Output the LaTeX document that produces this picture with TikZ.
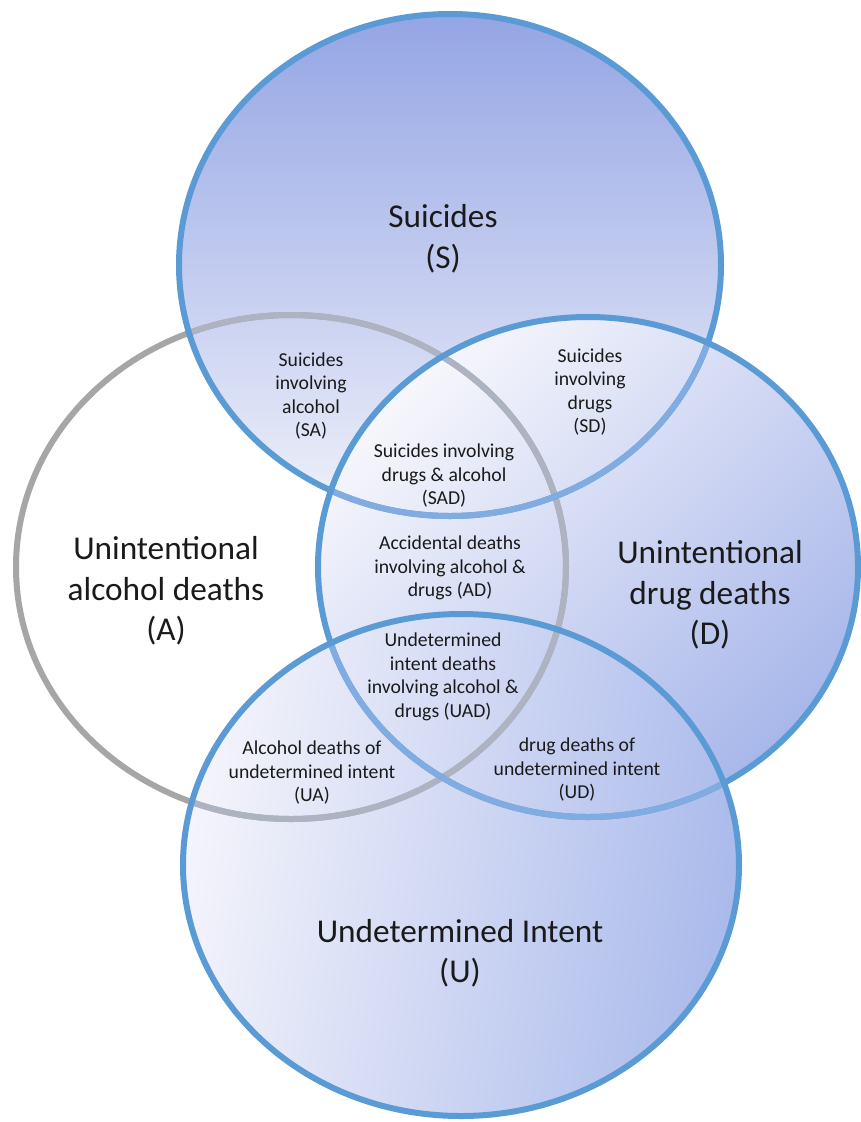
\documentclass[tikz,border=0pt]{standalone}
\usepackage{fontspec}
\setmainfont{Carlito}

% ring colours
\definecolor{ringblue}{HTML}{5B9BD5}
\definecolor{ringblueveil}{HTML}{80ACE1}
\definecolor{ringgray}{HTML}{A6A6A6}
\definecolor{ringgrayveil}{HTML}{AEB3C1}
\definecolor{labelink}{HTML}{1A1A1A}
% fill gradients
\definecolor{sTop}{HTML}{94A5E4}
\definecolor{sMid}{HTML}{D0D7F3}
\definecolor{sBot}{HTML}{EFF1FA}
\definecolor{dLight}{HTML}{F7F7FC}
\definecolor{dDark}{HTML}{A8B7EA}
\definecolor{uLight}{HTML}{F4F4FB}
\definecolor{uDark}{HTML}{AABAEB}

% the four sets
\newcommand\ringS{(450,265) ellipse [x radius=271, y radius=251]}
\newcommand\ringA{(291,567) ellipse [x radius=275, y radius=252]}
\newcommand\ringD{(588,567) ellipse [x radius=270, y radius=250]}
\newcommand\ringU{(461,865) ellipse [x radius=278, y radius=251]}

\begin{document}
\begin{tikzpicture}[x=1pt,y=-1pt,
  rim/.style={line width=6pt},
  biglabel/.style={align=center, inner sep=0pt, text=labelink,
    font=\fontsize{33.3}{40.5}\selectfont},
  smalllabel/.style={align=center, inner sep=0pt, text=labelink,
    font=\fontsize{19.7}{23.5}\selectfont}]

\fill[white] (0,0) rectangle (861,1122);
\useasboundingbox (0,0) rectangle (861,1122);

% fills, back to front
\shade[top color=sTop, middle color=sMid, bottom color=sBot] \ringS;
\shade[top color=dLight, bottom color=dDark, shading angle=45] \ringD;
\shade[top color=uLight, bottom color=uDark, shading angle=80] \ringU;

% alcohol ring, veiled where later sets lie over it
\draw[rim, ringgray] \ringA;
\begin{scope}\clip \ringS; \draw[rim, ringgrayveil] \ringA; \end{scope}
\begin{scope}\clip \ringD; \draw[rim, ringgrayveil] \ringA; \end{scope}
\begin{scope}\clip \ringU; \draw[rim, ringgrayveil] \ringA; \end{scope}

% suicides ring
\draw[rim, ringblue] \ringS;
\begin{scope}\clip \ringD; \draw[rim, ringblueveil] \ringS; \end{scope}

% drug ring
\draw[rim, ringblue] \ringD;
\begin{scope}\clip \ringU; \draw[rim, ringblueveil] \ringD; \end{scope}

% undetermined ring, on top
\draw[rim, ringblue] \ringU;

% set labels
\node[biglabel] (S) at (443,238.5) {Suicides\\(S)};
\node[biglabel] (A) at (166,591) {Unintentional\\alcohol deaths\\(A)};
\node[biglabel] (D) at (710,595) {Unintentional\\drug deaths\\(D)};
\node[biglabel] (U) at (460,953) {Undetermined Intent\\(U)};

% overlap labels
\node[smalllabel] (SA) at (311,396) {Suicides\\involving\\alcohol\\(SA)};
\node[smalllabel] (SD) at (590,392) {Suicides\\involving\\drugs\\(SD)};
\node[smalllabel] (SAD) at (444,476) {Suicides involving\\drugs \& alcohol\\(SAD)};
\node[smalllabel] (AD) at (450,568) {Accidental deaths\\involving alcohol \&\\drugs (AD)};
\node[smalllabel] (UAD) at (443,677) {Undetermined\\intent deaths\\involving alcohol \&\\drugs (UAD)};
\node[smalllabel] (UA) at (312,773) {Alcohol deaths of\\undetermined intent\\(UA)};
\node[smalllabel] (UD) at (577,770) {drug deaths of\\undetermined intent\\(UD)};
\end{tikzpicture}
\end{document}
